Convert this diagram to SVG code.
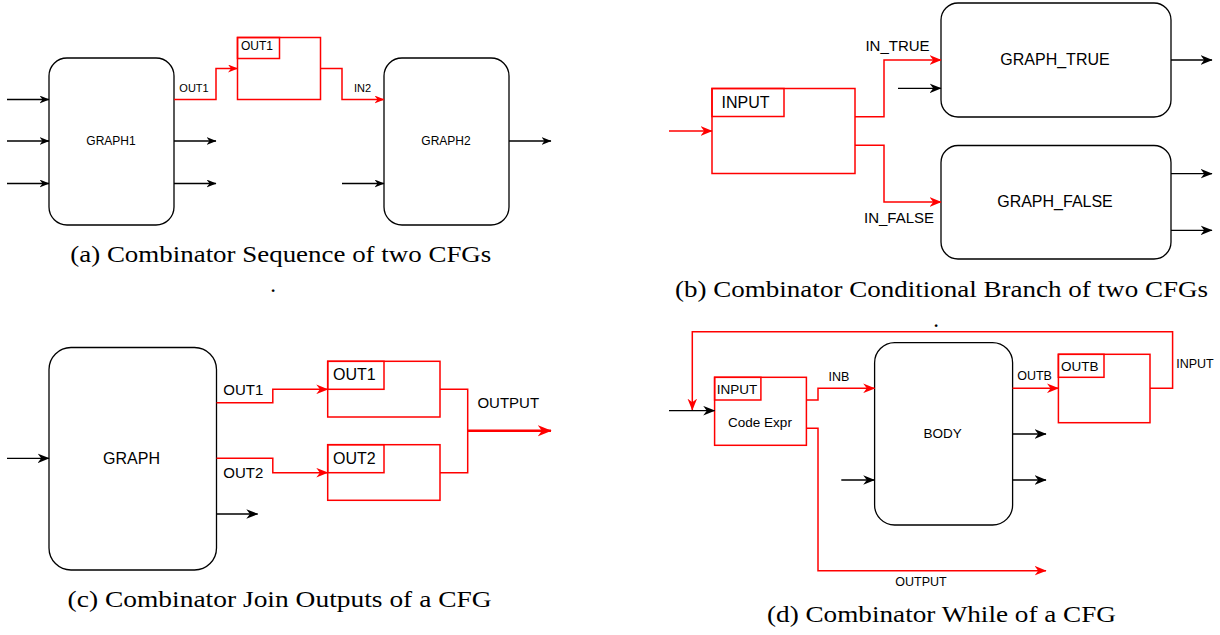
<svg xmlns="http://www.w3.org/2000/svg" width="1220" height="635" viewBox="0 0 1220 635">
<defs>
<marker id="ab" viewBox="0 0 10 8" refX="9.5" refY="4" markerWidth="10" markerHeight="8" markerUnits="userSpaceOnUse" orient="auto"><path d="M0,0 L10,4 L0,8 L3,4 Z" fill="#000"/></marker>
<marker id="ar" viewBox="0 0 10 8" refX="9.5" refY="4" markerWidth="10" markerHeight="8" markerUnits="userSpaceOnUse" orient="auto"><path d="M0,0 L10,4 L0,8 L3,4 Z" fill="#f00"/></marker>
<marker id="ab2" viewBox="0 0 10 8" refX="9.5" refY="4" markerWidth="12" markerHeight="10" markerUnits="userSpaceOnUse" orient="auto"><path d="M0,0 L10,4 L0,8 L3,4 Z" fill="#000"/></marker>
<marker id="ar2" viewBox="0 0 10 8" refX="9.5" refY="4" markerWidth="12" markerHeight="10" markerUnits="userSpaceOnUse" orient="auto"><path d="M0,0 L10,4 L0,8 L3,4 Z" fill="#f00"/></marker>
<marker id="ar3" viewBox="0 0 10 8" refX="9.5" refY="4" markerWidth="14" markerHeight="12" markerUnits="userSpaceOnUse" orient="auto"><path d="M0,0 L10,4 L0,8 L3,4 Z" fill="#f00"/></marker>
<style>
.g{fill:#fff;stroke:#000;stroke-width:1.3}
.rb{fill:#fff;stroke:#f00;stroke-width:1.5}
.rl{fill:none;stroke:#f00;stroke-width:1.5}
.bl{fill:none;stroke:#000;stroke-width:1.3;marker-end:url(#ab)}
.ra{fill:none;stroke:#f00;stroke-width:1.5;marker-end:url(#ar)}
.bl2{fill:none;stroke:#000;stroke-width:1.3;marker-end:url(#ab2)}
.ra2{fill:none;stroke:#f00;stroke-width:1.5;marker-end:url(#ar2)}
text{font-family:"Liberation Sans",Arial,sans-serif;fill:#000}
.c{text-anchor:middle;dominant-baseline:central}
.l{dominant-baseline:central}
.cap{font-family:"Liberation Serif","Times New Roman",serif;font-size:23px;text-anchor:middle}
</style>
</defs>

<!-- Panel (a) -->
<g id="graph1"><rect class="g" x="49" y="58" width="125" height="167" rx="18"/><text class="c" x="111" y="141" font-size="12">GRAPH1</text></g>
<g id="graph2"><rect class="g" x="384" y="58" width="125" height="167" rx="18"/><text class="c" x="446" y="141" font-size="12">GRAPH2</text></g>
<g id="out1a"><rect class="rb" x="237.5" y="37.5" width="83" height="62"/><rect class="rl" x="237.5" y="37.5" width="42" height="21"/><text class="l" x="241" y="46" font-size="12">OUT1</text></g>

<!-- Panel (b) -->
<g id="graph_true"><rect class="g" x="941" y="3" width="230" height="114" rx="17"/><text class="c" x="1055" y="59.5" font-size="16">GRAPH_TRUE</text></g>
<g id="graph_false"><rect class="g" x="941" y="145.5" width="230" height="113.5" rx="17"/><text class="c" x="1055" y="201" font-size="16">GRAPH_FALSE</text></g>
<g id="input_b"><rect class="rb" x="712" y="88.5" width="143" height="85"/><rect class="rl" x="712" y="88.5" width="72" height="28"/><text class="l" x="721.5" y="102" font-size="16">INPUT</text></g>

<!-- Panel (c) -->
<g id="graph_c"><rect class="g" x="49" y="347.5" width="167.5" height="222.5" rx="22"/><text class="c" x="131.5" y="458.5" font-size="16">GRAPH</text></g>
<g id="out1c"><rect class="rb" x="327.7" y="361.3" width="112.3" height="55.7"/><rect class="rl" x="327.7" y="361.3" width="56.3" height="28"/><text class="l" x="333" y="374.5" font-size="16">OUT1</text></g>
<g id="out2c"><rect class="rb" x="327.7" y="444.7" width="112.3" height="55.6"/><rect class="rl" x="327.7" y="444.7" width="56.3" height="28"/><text class="l" x="333" y="458.5" font-size="16">OUT2</text></g>

<!-- Panel (d) -->
<g id="code_expr"><rect class="rb" x="714.6" y="377.3" width="91.8" height="68"/><rect class="rl" x="714.6" y="377.3" width="46.3" height="22.7"/><text class="l" x="716.7" y="389" font-size="13.5">INPUT</text><text class="c" x="760" y="422.3" font-size="13.5">Code Expr</text></g>
<g id="body"><rect class="g" x="874.6" y="342.7" width="138" height="182.3" rx="20"/><text class="c" x="942.6" y="433.5" font-size="13.5">BODY</text></g>
<g id="outb"><rect class="rb" x="1058.4" y="354.3" width="91.6" height="68.4"/><rect class="rl" x="1058.4" y="354.3" width="45.6" height="23"/><text class="l" x="1061" y="366" font-size="13.5">OUTB</text></g>

<g id="connectors">
<!-- a -->
<path class="bl" d="M7,99.5 H49"/>
<path class="bl" d="M7,141 H49"/>
<path class="bl" d="M7,183.5 H49"/>
<path class="bl" d="M174,141 H216"/>
<path class="bl" d="M174,183.5 H216"/>
<path class="bl" d="M342,183.5 H384"/>
<path class="bl" d="M509,141 H551"/>
<path class="ra" d="M174,99.5 H216 V68.5 H237.5"/>
<path class="ra" d="M320.5,68.5 H342 V99.5 H384"/>
<!-- b -->
<path class="ra2" d="M669,131 H712"/>
<path class="ra2" d="M855,116.7 H884 V60 H941"/>
<path class="ra2" d="M855,145.3 H884 V202 H941"/>
<path class="bl2" d="M898,88.3 H941"/>
<path class="bl2" d="M1171,60 H1212"/>
<path class="bl2" d="M1171,173.7 H1212"/>
<path class="bl2" d="M1171,230.3 H1212"/>
<!-- c -->
<path class="bl2" d="M7,458.3 H49"/>
<path class="bl2" d="M216.5,514 H257.7"/>
<path class="ra2" d="M216.5,402.7 H272.8 V389.3 H327.7"/>
<path class="ra2" d="M216.5,458.3 H272.8 V472.7 H327.7"/>
<path class="rl" d="M440,389.3 H467.7 V472.7 H440"/>
<path d="M467.7,430.7 H551" fill="none" stroke="#f00" stroke-width="2.5" marker-end="url(#ar3)"/>
<!-- d -->
<path class="ra2" d="M1150,388.3 H1172.6 V331.7 H692.3 V410"/>
<path class="bl2" d="M669,410.7 H714.6"/>
<path class="ra2" d="M806.4,400 H818 V388.3 H874.6"/>
<path class="ra2" d="M806.4,428.3 H818 V570.7 H1046"/>
<path class="ra2" d="M1012.5,388.3 H1058.4"/>
<path class="bl2" d="M1012.5,434 H1046"/>
<path class="bl2" d="M1012.5,480 H1046"/>
<path class="bl2" d="M841.3,480 H874.6"/>
</g>

<g id="labels">
<text class="c" x="194" y="88" font-size="11">OUT1</text>
<text class="c" x="362.5" y="88" font-size="11">IN2</text>
<text class="c" x="897.5" y="45.5" font-size="15">IN_TRUE</text>
<text class="c" x="899" y="217" font-size="15">IN_FALSE</text>
<text class="l" x="223.3" y="389.3" font-size="15">OUT1</text>
<text class="l" x="223.3" y="472.3" font-size="15">OUT2</text>
<text class="l" x="477.4" y="402.7" font-size="15">OUTPUT</text>
<text class="c" x="839" y="376.7" font-size="12.5">INB</text>
<text class="c" x="1034.6" y="375.7" font-size="12.5">OUTB</text>
<text class="c" x="1195" y="364.3" font-size="12.5">INPUT</text>
<text class="c" x="921" y="581.7" font-size="12.5">OUTPUT</text>
</g>

<g id="captions">
<text class="cap" x="280.8" y="261.5" textLength="421" lengthAdjust="spacingAndGlyphs">(a) Combinator Sequence of two CFGs</text>
<text class="cap" x="273" y="292">.</text>
<text class="cap" x="941.5" y="296.5" textLength="533" lengthAdjust="spacingAndGlyphs">(b) Combinator Conditional Branch of two CFGs</text>
<text class="cap" x="936" y="327">.</text>
<text class="cap" x="279.6" y="607" textLength="424" lengthAdjust="spacingAndGlyphs">(c) Combinator Join Outputs of a CFG</text>
<text class="cap" x="941.5" y="622" textLength="349" lengthAdjust="spacingAndGlyphs">(d) Combinator While of a CFG</text>
</g>
</svg>
